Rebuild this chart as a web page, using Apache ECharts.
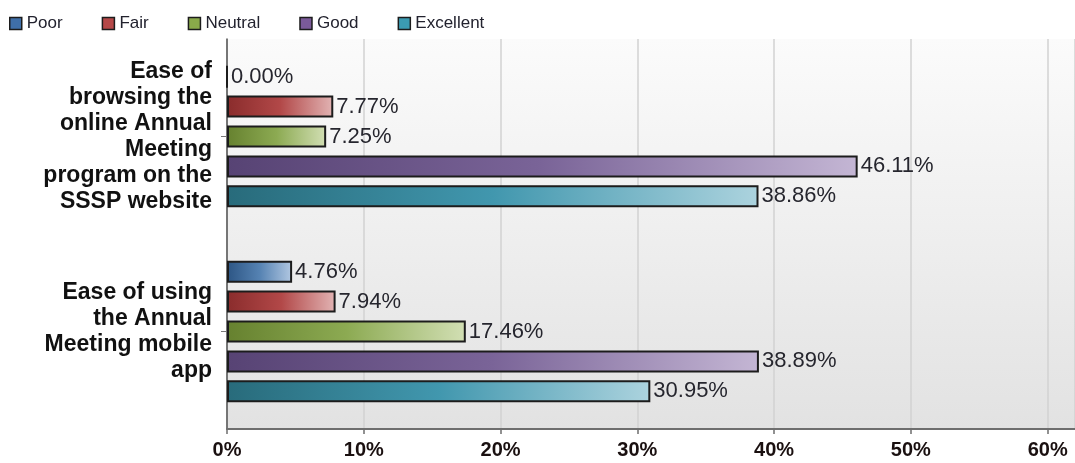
<!DOCTYPE html>
<html>
<head>
<meta charset="utf-8">
<script src="https://cdn.jsdelivr.net/npm/echarts@6/dist/echarts.min.js"></script>
<style>
  html, body { margin: 0; padding: 0; background: #fff; }
  #chart { width: 1075px; height: 463px; }
</style>
</head>
<body>
<div id="chart"></div>
<script>
// categories (line breaks as in the picture)
const questions = [
  'Ease of\nbrowsing the\nonline Annual\nMeeting\nprogram on the\nSSSP website',
  'Ease of using\nthe Annual\nMeeting mobile\napp'
];
const ratings = ['Poor', 'Fair', 'Neutral', 'Good', 'Excellent'];

// percent of answers, one array per rating
const poor = [0.00, 4.76];
const fair = [7.77, 7.94];
const neutral = [7.25, 17.46];
const good = [46.11, 38.89];
const excellent = [38.86, 30.95];
const values = [poor, fair, neutral, good, excellent];

const xTicks = [0, 10, 20, 30, 40, 50, 60];

// colours: [dark, mid, light] for the bar gradient, plus the legend swatch
const palette = [
  ['#2c5584', '#5582b2', '#b2c8e2', '#3f6fa9'],
  ['#8a2c2c', '#b24848', '#e2b4b4', '#b54848'],
  ['#66812f', '#8caa52', '#d2dfb4', '#8aaa4a'],
  ['#574374', '#7a6498', '#c4b6d4', '#7b5a9a'],
  ['#286b7b', '#4197ae', '#acd3de', '#3b9bb2']
];

const chart = echarts.init(document.getElementById('chart'));

const series = ratings.map((name, i) => ({
  name: name,
  type: 'bar',
  data: values[i],
  barWidth: 22,
  barGap: '36%',
  itemStyle: {
    color: new echarts.graphic.LinearGradient(0, 0, 1, 0, [
      { offset: 0, color: palette[i][0] },
      { offset: 0.5, color: palette[i][1] },
      { offset: 1, color: palette[i][2] }
    ]),
    borderColor: '#1c1c1c',
    borderWidth: 2
  },
  label: {
    show: true,
    position: 'right',
    distance: 3,
    fontFamily: 'Liberation Sans',
    fontSize: 22,
    color: '#26262e',
    formatter: p => p.value.toFixed(2) + '%'
  },
  emphasis: { disabled: true }
}));

chart.setOption({
  animation: false,
  legend: {
    left: 4,
    top: 10,
    itemWidth: 12,
    itemHeight: 12,
    itemGap: 39,
    textStyle: { fontFamily: 'Liberation Sans', fontSize: 17, color: '#22222e' },
    data: ratings.map((name, i) => ({
      name: name,
      icon: 'rect',
      itemStyle: { color: palette[i][3], borderColor: '#1c1c1c', borderWidth: 1.5 }
    }))
  },
  grid: {
    left: 227,
    right: 0,
    top: 39,
    bottom: 34,
    show: true,
    borderWidth: 0,
    backgroundColor: new echarts.graphic.LinearGradient(0, 0, 0, 1, [
      { offset: 0, color: '#fbfbfb' },
      { offset: 1, color: '#e2e2e2' }
    ])
  },
  xAxis: {
    type: 'value',
    min: xTicks[0],
    max: 62,
    interval: 10,
    axisLine: { show: true, lineStyle: { color: '#6e6e6e', width: 2 } },
    axisTick: { show: true, length: 5, lineStyle: { color: '#6e6e6e', width: 1.5 } },
    splitLine: { show: true, lineStyle: { color: '#d2d2d2', width: 1.5 } },
    axisLabel: {
      showMaxLabel: false,
      margin: 11,
      fontFamily: 'Liberation Sans',
      fontWeight: 'bold',
      fontSize: 20,
      color: '#1a1010',
      formatter: v => (xTicks.indexOf(v) >= 0 ? v + '%' : '')
    }
  },
  yAxis: {
    type: 'category',
    inverse: true,
    data: questions,
    axisLine: { show: true, lineStyle: { color: '#555', width: 1.5 } },
    axisTick: { show: true, alignWithLabel: true, length: 6, lineStyle: { color: '#777' } },
    axisLabel: {
      margin: 15,
      fontFamily: 'Liberation Sans',
      fontWeight: 'bold',
      fontSize: 23,
      lineHeight: 26,
      color: '#111',
      align: 'right'
    }
  },
  series: series
});
</script>
</body>
</html>
